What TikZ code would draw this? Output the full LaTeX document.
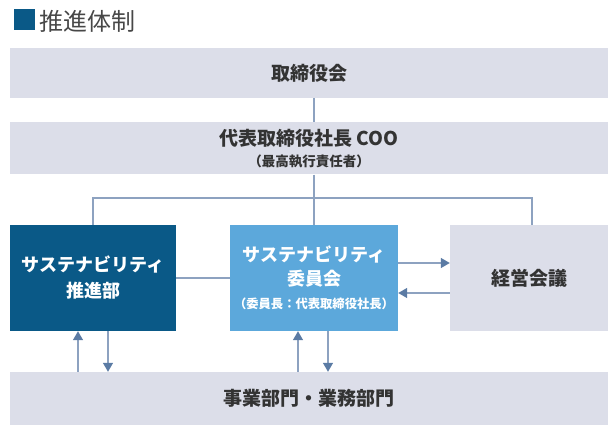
\documentclass[tikz,border=0pt]{standalone}
\usepackage{fontspec}
\setmainfont{Noto Sans CJK JP}
\usetikzlibrary{positioning, arrows.meta}
\definecolor{boxgray}{HTML}{DCDEE9}
\definecolor{darkblue}{HTML}{0A5987}
\definecolor{lightblue}{HTML}{5CA8DB}
\definecolor{linecol}{HTML}{8DA2C0}
\definecolor{tipcol}{HTML}{5B7BA4}
\definecolor{textgray}{HTML}{333333}
\newcommand{\smallnote}{\bfseries\fontsize{13.5}{16}\selectfont}
\newcommand{\chairnote}{\bfseries\fontsize{12.3}{15}\selectfont}

\begin{document}
\begin{tikzpicture}[x=1pt, y=-1pt,
    panel/.style={fill=boxgray, text=textgray, inner sep=0pt, align=center,
        font=\bfseries\fontsize{19}{22}\selectfont},
    bluepanel/.style={inner sep=0pt, align=center, text=white,
        font=\bfseries\fontsize{18}{26}\selectfont},
    link/.style={draw=linecol, line width=1.3pt},
    arr/.style={link, -{Triangle[length=9pt, width=10pt, color=tipcol, fill=tipcol]}}]
    \useasboundingbox (0,0) rectangle (608,425);

    % title
    \node[fill=darkblue, minimum size=21pt, inner sep=0pt] (mark) at (24,20) {};
    \node[anchor=west, inner sep=0pt, text=textgray!90,
        font=\fontsize{24}{26}\selectfont] (title) at (39,21) {推進体制};

    % boxes
    \node[panel, minimum width=598pt, minimum height=50pt] (board) at (309,73) {取締役会};
    \node[panel, minimum width=598pt, minimum height=52pt] (coo) at (309,148.5)
        {代表取締役社長 COO\\[-1pt]{\smallnote （最高執行責任者）}};
    \node[bluepanel, fill=darkblue, minimum width=166pt, minimum height=106pt]
        (promo) at (93,278) {サステナビリティ\\推進部};
    \node[bluepanel, fill=lightblue, minimum width=168pt, minimum height=106pt]
        (comm) at (314,278) {サステナビリティ\\[-2pt]委員会\\[-3pt]{\chairnote （委員長：代表取締役社長）}};
    \node[panel, minimum width=158pt, minimum height=106pt] (mgmt) at (529,278) {経営会議};
    \node[panel, minimum width=598pt, minimum height=53pt] (biz) at (309,398.5) {事業部門・業務部門};
    \coordinate (split) at (314,198);

    % connectors
    \draw[link] (board.south -| comm.north) -- (coo.north -| comm.north);
    \draw[link] (coo.south -| comm.north) -- (comm.north);
    \draw[link] (promo.north) |- (split) -| ([xshift=3pt]mgmt.north);
    \draw[link] (promo.east) -- (comm.west);
    \draw[arr] ([yshift=15pt]comm.east) -- ([yshift=15pt]mgmt.west);
    \draw[arr] ([yshift=-15pt]mgmt.west) -- ([yshift=-15pt]comm.east);
    \draw[arr] ([xshift=-15pt]promo.south |- biz.north) -- ([xshift=-15pt]promo.south);
    \draw[arr] ([xshift=15pt]promo.south) -- ([xshift=15pt]promo.south |- biz.north);
    \draw[arr] ([xshift=-16pt]comm.south |- biz.north) -- ([xshift=-16pt]comm.south);
    \draw[arr] ([xshift=14pt]comm.south) -- ([xshift=14pt]comm.south |- biz.north);
\end{tikzpicture}
\end{document}
